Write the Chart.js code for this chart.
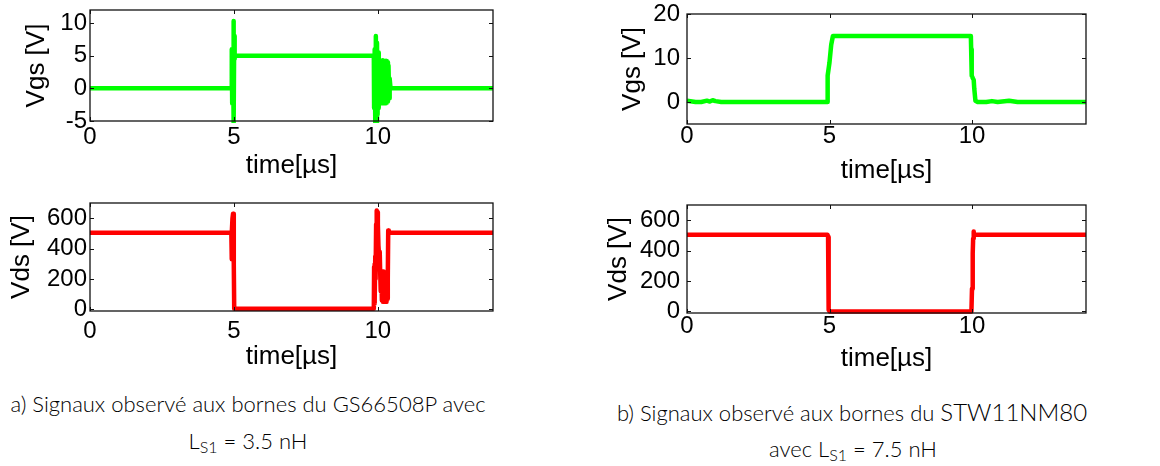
<!DOCTYPE html>
<html>
<head>
<meta charset="utf-8">
<script src="https://cdn.jsdelivr.net/npm/chart.js@4.4.0/dist/chart.umd.min.js"></script>
<style>
  html, body { margin: 0; padding: 0; background: #fff; }
  body { width: 1160px; height: 466px; position: relative; overflow: hidden; }
  .plot { position: absolute; }
  .caption { position: absolute; font-family: Lato, 'Open Sans', sans-serif; font-weight: 300; color: #000;
             text-align: center; white-space: nowrap; font-size: 22px; line-height: 30px; }
  .caption sub { font-size: 16px; vertical-align: -4px; line-height: 0; }
  .big { font-size: 24px; }
</style>
</head>
<body>
<div class="plot" style="left:0;top:0;width:520px;height:190px"><canvas id="aVgs" width="520" height="190"></canvas></div>
<div class="plot" style="left:0;top:190px;width:520px;height:185px"><canvas id="aVds" width="520" height="185"></canvas></div>
<div class="plot" style="left:590px;top:0;width:520px;height:190px"><canvas id="bVgs" width="520" height="190"></canvas></div>
<div class="plot" style="left:590px;top:190px;width:520px;height:185px"><canvas id="bVds" width="520" height="185"></canvas></div>

<div class="caption" style="left:0;width:496px;top:389px">a) Signaux observé aux bornes du GS66508P avec</div>
<div class="caption" style="left:0;width:496px;top:426px">L<sub>S1</sub> = 3.5 nH</div>
<div class="caption" style="left:604px;width:496px;top:397px">b) Signaux observé aux bornes du <span class="big">STW11NM80</span></div>
<div class="caption" style="left:605px;width:496px;top:434px">avec L<sub>S1</sub> = 7.5 nH</div>

<script>
// time axis (µs)
const timeTicks = [0, 5, 10];

// a) GS66508P, Ls1 = 3.5 nH
const aVgsTime = [0, 4.90, 4.92, 4.93, 4.94, 4.95, 4.96, 4.97, 4.98, 4.99, 5.00, 5.01, 5.02, 5.03, 5.06,
  9.86, 9.87, 9.89, 9.91, 9.93, 9.95, 9.97, 9.99, 10.01, 10.03, 10.05, 10.07, 10.09, 10.11, 10.13, 10.15,
  10.17, 10.19, 10.21, 10.23, 10.25, 10.27, 10.29, 10.31, 10.33, 10.35, 10.37, 10.39, 10.41, 10.44, 14];
const aVgsValue = [0, 0, 0, 6.0, -2.3, 5.5, -1.5, 3, -5.2, 10.3, -5.2, 8, 4.5, 5.2, 5,
  5, -3, 6, -5.2, 8, -5.2, 7, -4, 5.5, -3, 4.3, -2.3, 4.2, -2.3, 4.2, -2.2,
  4.3, -2.3, 4.2, -2.2, 4.2, -2.3, 4.2, -2.2, 4.0, -2.0, 3.5, -1.5, 1.5, 0, 0];
const aVgsTicks = [-5, 0, 5, 10];

const aVdsTime = [0, 4.91, 4.92, 4.93, 4.95, 4.97, 4.99, 5.00, 5.01, 5.04,
  9.86, 9.87, 9.88, 9.89, 9.90, 9.91, 9.92, 9.94, 9.96, 9.98, 10.00, 10.02, 10.04, 10.06, 10.07, 10.08,
  10.10, 10.12, 10.14, 10.16, 10.18, 10.20, 10.22, 10.24, 10.26, 10.28, 10.30, 10.32, 10.34, 10.35,
  10.36, 10.38, 10.42, 14];
const aVdsValue = [505, 505, 330, 505, 600, 630, 600, 300, 5, 5,
  5, 280, 40, 300, 60, 350, 200, 560, 650, 640, 560, 420, 360, 300, 380, 250,
  120, 250, 60, 240, 50, 250, 50, 240, 60, 245, 50, 240, 70, 200,
  520, 510, 505, 505];
const aVdsTicks = [0, 200, 400, 600];

// b) STW11NM80, Ls1 = 7.5 nH
const bVgsTime = [0, 0.3, 0.5, 0.7, 0.8, 0.9, 1.0, 1.2, 1.5, 4.92, 4.93, 4.94, 5.00, 5.06, 5.12,
  9.96, 9.97, 9.99, 10.02, 10.06, 10.08, 10.12, 10.2, 10.5, 10.7, 10.9, 11.3, 11.6, 14];
const bVgsValue = [0.3, 0, 0, 0.3, 0.1, 0.4, 0.2, 0, 0, 0, 0, 6, 9, 13, 15,
  15, 12, 6, 5.5, 5, 3, 0.3, 0, 0, 0.2, 0, 0.3, 0, 0];
const bVgsTicks = [0, 10, 20];

const bVdsTime = [0, 4.93, 4.95, 4.96, 4.97, 4.98, 5.00, 9.96, 9.98, 10.00, 10.02, 10.03, 10.04, 10.05, 10.07, 14];
const bVdsValue = [505, 505, 490, 300, 100, 10, 0, 0, 0, 150, 250, 380, 480, 525, 505, 505];
const bVdsTicks = [0, 200, 400, 600];

const axisFont = "'Liberation Sans', Arial, sans-serif";

// MATLAB-like frame with inward ticks on all four sides
const boxPlugin = {
  id: 'box',
  afterDatasetsDraw(chart) {
    const { ctx, chartArea: a, scales } = chart;
    ctx.save();
    ctx.strokeStyle = '#111';
    ctx.lineWidth = 1.3;
    ctx.strokeRect(a.left, a.top, a.right - a.left, a.bottom - a.top);
    ctx.beginPath();
    ctx.lineWidth = 1;
    scales.x.ticks.forEach(tk => {
      const px = Math.round(scales.x.getPixelForValue(tk.value)) + 0.5;
      ctx.moveTo(px, a.bottom); ctx.lineTo(px, a.bottom - 4);
      ctx.moveTo(px, a.top); ctx.lineTo(px, a.top + 4);
    });
    scales.y.ticks.forEach(tk => {
      const py = Math.round(scales.y.getPixelForValue(tk.value)) + 0.5;
      ctx.moveTo(a.left, py); ctx.lineTo(a.left + 4, py);
      ctx.moveTo(a.right, py); ctx.lineTo(a.right - 4, py);
    });
    ctx.stroke();
    ctx.restore();
  }
};

function makePlot(id, times, values, color, yMin, yMax, yTicks, yLabel, o) {
  return new Chart(document.getElementById(id), {
    type: 'line',
    data: {
      datasets: [{
        data: times.map((t, i) => ({ x: t, y: values[i] })),
        borderColor: color,
        borderWidth: 4.5,
        pointRadius: 0,
        tension: 0,
        borderJoinStyle: 'round',
        borderCapStyle: 'butt',
        clip: 2
      }]
    },
    options: {
      responsive: false,
      animation: false,
      events: [],
      layout: { padding: { top: o.top, right: o.right, left: 0, bottom: 0 } },
      plugins: { legend: { display: false }, tooltip: { enabled: false } },
      scales: {
        x: {
          type: 'linear', min: 0, max: 14,
          grid: { display: false, drawTicks: false }, border: { display: false },
          ticks: { color: '#000', autoSkip: false, maxRotation: 0, padding: o.xTickPad,
                   font: { family: axisFont, size: 24, lineHeight: 1 } },
          afterBuildTicks: s => { s.ticks = timeTicks.map(v => ({ value: v })); },
          afterFit: s => { s.height = o.xHeight; s.paddingLeft = 0; s.paddingRight = 0; },
          title: { display: true, text: 'time[µs]', color: '#000',
                   font: { family: axisFont, size: 26, lineHeight: 1 }, padding: { top: 0, bottom: o.xTitlePad } }
        },
        y: {
          min: yMin, max: yMax,
          grid: { display: false, drawTicks: false }, border: { display: false },
          ticks: { color: '#000', autoSkip: false, padding: o.yTickPad,
                   font: { family: axisFont, size: 24, lineHeight: 1 } },
          afterBuildTicks: s => { s.ticks = yTicks.map(v => ({ value: v })); },
          afterFit: s => { s.width = o.yWidth; s.paddingTop = 0; s.paddingBottom = 0; },
          title: { display: true, text: yLabel, color: '#000',
                   font: { family: axisFont, size: 26, lineHeight: 1 }, padding: { top: o.yTitlePad, bottom: 0 } }
        }
      }
    },
    plugins: [boxPlugin]
  });
}

makePlot('aVgs', aVgsTime, aVgsValue, '#00ff00', -5, 12, aVgsTicks, 'Vgs [V]',
  { top: 10, right: 27, yWidth: 90, xHeight: 69, xTickPad: 4, xTitlePad: 11, yTickPad: 3, yTitlePad: 24 });
makePlot('aVds', aVdsTime, aVdsValue, '#ff0000', -10, 700, aVdsTicks, 'Vds [V]',
  { top: 13, right: 27, yWidth: 90, xHeight: 64, xTickPad: 8, xTitlePad: 5, yTickPad: 3, yTitlePad: 9 });
makePlot('bVgs', bVgsTime, bVgsValue, '#00ff00', -5, 20, bVgsTicks, 'Vgs [V]',
  { top: 14, right: 24, yWidth: 97, xHeight: 66, xTickPad: 0, xTitlePad: 6, yTickPad: 7, yTitlePad: 30 });
makePlot('bVds', bVdsTime, bVdsValue, '#ff0000', -10, 700, bVdsTicks, 'Vds [V]',
  { top: 15, right: 24, yWidth: 97, xHeight: 62, xTickPad: 1, xTitlePad: 3, yTickPad: 7, yTitlePad: 16 });
</script>
</body>
</html>
